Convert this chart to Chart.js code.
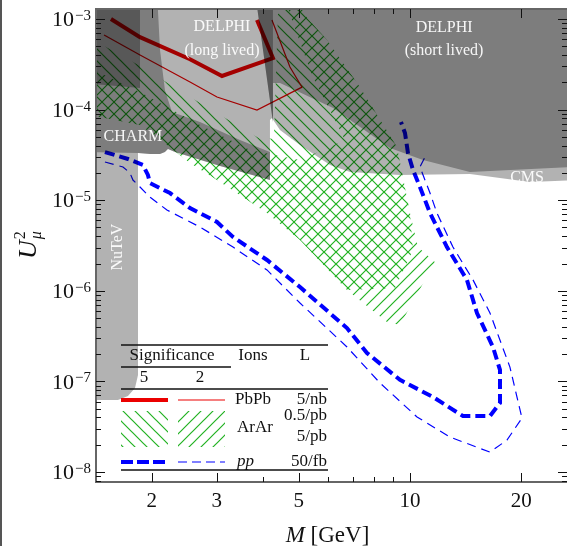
<!DOCTYPE html>
<html>
<head>
<meta charset="utf-8">
<script src="https://cdn.jsdelivr.net/npm/chart.js@4.4.1/dist/chart.umd.min.js"></script>
<style>
  html, body { margin: 0; padding: 0; background: #fff; }
  #c { display: block; }
</style>
</head>
<body>
<canvas id="c" width="567" height="546"></canvas>
<script>
// axis ranges (M in GeV, U^2)
const xMin = 1.414, xMax = 26.6;
const yMin = 7.76e-9, yMax = 1.29e-3;

const xMajorTicks = [2, 3, 5, 10, 20];
const xMinorTicks = [4, 6, 7, 8, 9];
const yMajorExp = [-3, -4, -5, -6, -7, -8];
const yMinorMult = [2, 3, 4, 5, 6, 7, 8, 9];

// PbPb sensitivity curves [M, U^2]
const pbpb5 = [[1.552, 1.0e-3], [1.86, 6.3e-4], [2.54, 3.6e-4], [3.10, 2.35e-4], [4.258, 3.71e-4], [3.855, 9.75e-4]];
const pbpb2 = [[1.487, 6.66e-4], [1.86, 4.01e-4], [2.54, 2.02e-4], [3.005, 1.38e-4], [3.855, 9.9e-5], [5.103, 1.77e-4], [4.734, 2.95e-4], [4.232, 9.75e-4]];

// pp sensitivity curves
const pp5 = [[1.495, 3.40e-5], [1.726, 2.85e-5], [1.894, 2.45e-5], [1.954, 1.90e-5], [1.979, 1.55e-5], [2.107, 1.36e-5],
  [2.242, 1.20e-5], [2.54, 8.2e-6], [3.005, 5.75e-6], [3.32, 3.93e-6], [4.103, 2.19e-6], [5.04, 1.10e-6], [6.754, 3.88e-7],
  [7.651, 2.06e-7], [9.397, 1.04e-7], [11.54, 6.73e-8], [13.91, 4.15e-8], [16.46, 4.15e-8], [17.52, 5.78e-8], [17.52, 1.34e-7],
  [16.77, 2.40e-7], [15.18, 5.69e-7], [14.26, 1.32e-6], [12.59, 3.04e-6], [11.33, 7.22e-6], [10.64, 1.40e-5], [10.19, 2.16e-5],
  [9.876, 3.32e-5], [9.694, 5.52e-5], [9.456, 7.29e-5]];
const pp2 = [[1.495, 2.64e-5], [1.673, 2.33e-5], [1.747, 2.00e-5], [1.78, 1.67e-5], [1.86, 1.40e-5], [1.979, 1.08e-5],
  [2.2, 7.8e-6], [2.703, 5.06e-6], [3.32, 3.04e-6], [4.103, 1.70e-6], [5.04, 7.33e-7], [6.754, 2.40e-7], [8.297, 9.6e-8],
  [10.45, 4.05e-8], [12.83, 2.43e-8], [16.46, 1.66e-8], [18.3, 2.25e-8], [20.09, 3.94e-8], [18.64, 1.44e-7], [16.46, 5.69e-7],
  [14.81, 1.32e-6], [13.07, 3.04e-6], [11.83, 7.22e-6], [11.33, 1.20e-5], [10.64, 2.33e-5], [10.98, 3.00e-5]];

// ArAr regions (hatched)
const arar5 = [[1.362, 6.17e-4], [1.86, 3.03e-4], [2.703, 1.18e-4], [3.977, 4.62e-5], [4.285, 4.86e-5], [4.394, 1.135e-3],
  [4.947, 1.62e-3], [5.264, 1.03e-3], [5.965, 5.86e-4], [7.324, 1.77e-4], [9.222, 3.86e-5], [10.0, 7.22e-6], [10.19, 2.82e-6],
  [9.11, 1.07e-6], [6.754, 1.02e-6], [5.04, 3.64e-6], [4.103, 7.22e-6], [3.005, 1.67e-5], [2.54, 2.58e-5], [2.2, 4.07e-5],
  [1.86, 6.76e-5], [1.362, 8.72e-5]];
const arar2 = [[1.362, 2.88e-4], [1.86, 1.56e-4], [2.703, 6.76e-5], [3.691, 3.58e-5], [5.04, 2.78e-5], [6.67, 4.62e-5],
  [5.43, 2.41e-4], [4.676, 1.29e-3], [4.947, 1.62e-3], [5.264, 1.03e-3], [5.965, 5.86e-4], [7.324, 1.77e-4], [9.222, 3.86e-5],
  [10.0, 7.22e-6], [10.51, 3.04e-6], [11.68, 2.08e-6], [9.397, 4.20e-7], [8.666, 4.53e-7], [6.754, 1.02e-6], [5.04, 3.64e-6],
  [4.103, 7.22e-6], [3.005, 1.67e-5], [2.54, 2.58e-5], [2.2, 4.07e-5], [1.86, 6.76e-5], [1.362, 8.72e-5]];

// excluded regions, stacked shades (1, 2, 3 overlapping layers)
const grayOne = [[1.3, 2e-3], [28, 2e-3], [28, 1.67e-5], [21.11, 1.59e-5], [14.53, 1.95e-5], [9.397, 1.90e-5], [6.882, 2.05e-5],
  [6.077, 2.45e-5], [5.04, 4.07e-5], [4.449, 5.96e-5], [4.232, 8.07e-5], [4.18, 7.67e-5], [4.18, 1.67e-5], [4.002, 1.76e-5],
  [3.062, 2.39e-5], [2.313, 3.40e-5], [2.214, 3.67e-5], [2.173, 3.40e-5], [2.107, 3.24e-5], [1.979, 3.24e-5], [1.837, 3.32e-5],
  [1.837, 1.18e-7], [1.803, 8.45e-8], [1.726, 6.90e-8], [1.621, 6.24e-8], [1.3, 6.24e-8]];
const grayTwoLeft = [[1.3, 2e-3], [2.068, 2e-3], [2.107, 4.55e-4], [2.173, 1.64e-4], [2.27, 9.4e-5], [2.703, 7.29e-5],
  [3.467, 4.62e-5], [4.18, 3.40e-5], [4.18, 1.67e-5], [4.002, 1.76e-5], [3.062, 2.39e-5], [2.313, 3.40e-5], [2.214, 3.67e-5],
  [2.173, 3.40e-5], [2.107, 3.24e-5], [1.979, 3.24e-5], [1.837, 3.32e-5], [1.3, 3.40e-5]];
const grayTwoRight = [[3.807, 2e-3], [28, 2e-3], [28, 2.33e-5], [14.53, 2.05e-5], [10.84, 2.78e-5], [8.83, 3.77e-5],
  [6.192, 1.04e-4], [4.449, 1.97e-4], [4.258, 1.97e-4], [4.258, 7.29e-5]];
const grayThreeLeft = [[1.3, 2e-3], [1.86, 2e-3], [1.86, 1.73e-4], [1.3, 1.97e-4]];
const grayThreeWedge = [[3.807, 2e-3], [4.258, 2e-3], [4.258, 7.29e-5]];

const regionLabels = [
  { text: 'DELPHI', m: 3.10, u2: 8.16e-4 },
  { text: '(long lived)', m: 3.10, u2: 4.44e-4 },
  { text: 'DELPHI', m: 12.37, u2: 7.96e-4 },
  { text: '(short lived)', m: 12.37, u2: 4.44e-4 },
  { text: 'CHARM', m: 1.78, u2: 4.99e-5 },
  { text: 'CMS', m: 20.74, u2: 1.76e-5 },
  { text: 'NuTeV', m: 1.621, u2: 3.04e-6, rotate: true }
];

const serif = '"Liberation Serif", "Times New Roman", serif';
const red = 'rgb(235,0,0)';
const blue = 'rgb(0,0,255)';
const green = 'rgb(34,178,34)';
const shade = 'rgba(0,0,0,0.3)';

const canvas = document.getElementById('c');
const ctx = canvas.getContext('2d');

function makeHatch(dir) {
    const s = 12;
    const tile = document.createElement('canvas');
    tile.width = s; tile.height = s;
    const g = tile.getContext('2d');
    g.strokeStyle = green;
    g.lineWidth = 1.2;
    g.beginPath();
    if (dir === '/') {
        g.moveTo(0, s); g.lineTo(s, 0);
        g.moveTo(-1, 1); g.lineTo(1, -1);
        g.moveTo(s - 1, s + 1); g.lineTo(s + 1, s - 1);
    } else {
        g.moveTo(0, 0); g.lineTo(s, s);
        g.moveTo(-1, s - 1); g.lineTo(1, s + 1);
        g.moveTo(s - 1, -1); g.lineTo(s + 1, 1);
    }
    g.stroke();
    return ctx.createPattern(tile, 'repeat');
}
const hatchBack = makeHatch('\\');
const hatchFwd = makeHatch('/');

const toXY = pts => pts.map(([m, u]) => ({ x: m, y: u }));

function region(pts, bg, order) {
    return { data: toXY(pts), backgroundColor: bg, borderWidth: 0, fill: 'shape', pointRadius: 0, order: order };
}
function curve(pts, color, width, dash, order) {
    return { data: toXY(pts), borderColor: color, borderWidth: width, borderDash: dash, fill: false, pointRadius: 0, order: order };
}

function drawSup(c, base, sup, xRight, yMid, size) {
    const supSize = Math.round(size * 0.7);
    c.font = size + 'px ' + serif;
    const wb = c.measureText(base).width;
    c.font = supSize + 'px ' + serif;
    const ws = c.measureText(sup).width;
    const x0 = xRight - ws - wb - 1;
    c.textAlign = 'left';
    c.textBaseline = 'alphabetic';
    c.font = size + 'px ' + serif;
    c.fillText(base, x0, yMid + size * 0.33);
    c.font = supSize + 'px ' + serif;
    c.fillText(sup, x0 + wb + 1, yMid + 1);
}

const decorations = {
    id: 'decorations',
    afterDatasetsDraw(chart) {
        const c = chart.ctx;
        const { x, y } = chart.scales;
        const a = chart.chartArea;
        c.save();
        c.beginPath();
        c.rect(a.left, a.top, a.right - a.left, a.bottom - a.top);
        c.clip();
        c.fillStyle = 'rgba(255,255,255,0.93)';
        c.textAlign = 'center';
        c.textBaseline = 'middle';
        c.font = '16px ' + serif;
        regionLabels.forEach(l => {
            const px = x.getPixelForValue(l.m), py = y.getPixelForValue(l.u2);
            if (l.rotate) {
                c.save();
                c.translate(px, py);
                c.rotate(-Math.PI / 2);
                c.fillText(l.text, 0, 0);
                c.restore();
            } else {
                c.fillText(l.text, px, py);
            }
        });
        c.restore();
    },
    afterDraw(chart) {
        const c = chart.ctx;
        const { x, y } = chart.scales;
        const a = chart.chartArea;
        c.save();

        // frame
        c.strokeStyle = '#666';
        c.lineWidth = 2;
        c.beginPath();
        c.moveTo(a.right + 2, a.top); c.lineTo(a.left, a.top); c.lineTo(a.left, a.bottom); c.lineTo(a.right + 2, a.bottom);
        c.stroke();
        c.strokeStyle = '#555';
        c.beginPath(); c.moveTo(1, 0); c.lineTo(1, 546); c.stroke();

        // ticks
        c.strokeStyle = '#111';
        c.lineWidth = 1;
        const seg = (x1, y1, x2, y2) => { c.beginPath(); c.moveTo(x1, y1); c.lineTo(x2, y2); c.stroke(); };
        const xt = (v, len) => {
            const px = Math.round(x.getPixelForValue(v)) + 0.5;
            seg(px, a.bottom, px, a.bottom - len);
            seg(px, a.top, px, a.top + len);
        };
        xMajorTicks.forEach(v => xt(v, 9));
        xMinorTicks.forEach(v => xt(v, 5));
        const yt = (v, len) => {
            const py = Math.round(y.getPixelForValue(v)) + 0.5;
            seg(a.left, py, a.left + len, py);
            seg(a.right, py, a.right - len, py);
        };
        yMajorExp.forEach(e => {
            yt(Math.pow(10, e), 9);
            yMinorMult.forEach(k => {
                const v = k * Math.pow(10, e - 1);
                if (v > yMin && v < yMax) yt(v, 5);
            });
        });

        // tick labels
        c.fillStyle = '#111';
        c.font = '21px ' + serif;
        c.textAlign = 'center';
        c.textBaseline = 'middle';
        xMajorTicks.forEach(v => c.fillText(String(v), x.getPixelForValue(v), a.bottom + 19));
        yMajorExp.forEach(e => drawSup(c, '10', '\u2212' + Math.abs(e), a.left - 5, y.getPixelForValue(Math.pow(10, e)), 22));

        // axis titles
        c.textBaseline = 'alphabetic';
        c.textAlign = 'left';
        c.font = 'italic 23px ' + serif;
        const wM = c.measureText('M').width;
        c.font = '23px ' + serif;
        const wG = c.measureText(' [GeV]').width;
        const xt0 = (a.left + 567) / 2 - (wM + wG) / 2 - 4;
        c.font = 'italic 23px ' + serif;
        c.fillText('M', xt0, 542);
        c.font = '23px ' + serif;
        c.fillText(' [GeV]', xt0 + wM, 542);

        c.save();
        c.translate(36, 259);
        c.rotate(-Math.PI / 2);
        c.font = 'italic 26px ' + serif;
        c.fillText('U', 0, 0);
        const wU = c.measureText('U').width;
        c.font = '16px ' + serif;
        c.fillText('2', wU + 1, -11);
        c.font = 'italic 16px ' + serif;
        c.fillText('\u03bc', wU + 1, 5);
        c.restore();

        // legend table
        const L = 121, R = 328;
        c.strokeStyle = '#111';
        c.lineWidth = 1.6;
        seg(L, 345, R, 345);
        seg(L, 367, 231, 367);
        seg(L, 389, R, 389);
        seg(L, 470, R, 470);
        c.font = '17px ' + serif;
        c.textBaseline = 'middle';
        c.textAlign = 'center';
        c.fillText('Significance', 172, 356);
        c.fillText('Ions', 253, 356);
        c.fillText('L', 305, 356);
        c.fillText('5', 144, 378);
        c.fillText('2', 200, 378);

        c.strokeStyle = red;
        c.lineWidth = 4;
        seg(121, 400, 168, 400);
        c.lineWidth = 1.2;
        seg(178, 400, 225, 400);

        c.fillStyle = hatchBack;
        c.fillRect(121, 411, 47, 36);
        c.fillStyle = hatchFwd;
        c.fillRect(178, 411, 47, 36);

        c.strokeStyle = blue;
        c.lineWidth = 4;
        c.setLineDash([12, 4]);
        seg(121, 462, 168, 462);
        c.lineWidth = 1.2;
        c.setLineDash([9, 5]);
        seg(178, 462, 225, 462);
        c.setLineDash([]);

        c.fillStyle = '#111';
        c.textAlign = 'left';
        c.fillText('PbPb', 235, 400);
        c.fillText('ArAr', 237, 428);
        c.font = 'italic 17px ' + serif;
        c.fillText('pp', 237, 462);
        c.font = '17px ' + serif;
        c.textAlign = 'right';
        c.fillText('5/nb', 327, 400);
        c.fillText('0.5/pb', 327, 416);
        c.fillText('5/pb', 327, 437);
        c.fillText('50/fb', 327, 462);

        c.restore();
    }
};

new Chart(ctx, {
    type: 'line',
    data: {
        datasets: [
            region(arar5, hatchBack, 20),
            region(arar2, hatchFwd, 19),
            curve(pbpb2, red, 1.2, [], 10),
            curve(pbpb5, red, 4, [], 10),
            curve(pp2, blue, 1.2, [9, 6], 10),
            curve(pp5, blue, 4, [10, 5], 10),
            region(grayOne, shade, 3),
            region(grayTwoLeft, shade, 2),
            region(grayTwoRight, shade, 2),
            region(grayThreeLeft, shade, 1),
            region(grayThreeWedge, shade, 1)
        ]
    },
    options: {
        responsive: false,
        animation: false,
        events: [],
        layout: { padding: { left: 96, top: 9, right: 0, bottom: 64 } },
        scales: {
            x: { type: 'logarithmic', min: xMin, max: xMax, bounds: 'data', display: false },
            y: { type: 'logarithmic', min: yMin, max: yMax, bounds: 'data', display: false }
        },
        elements: { line: { tension: 0 }, point: { radius: 0 } },
        plugins: { legend: { display: false }, tooltip: { enabled: false } }
    },
    plugins: [decorations]
});
</script>
</body>
</html>
